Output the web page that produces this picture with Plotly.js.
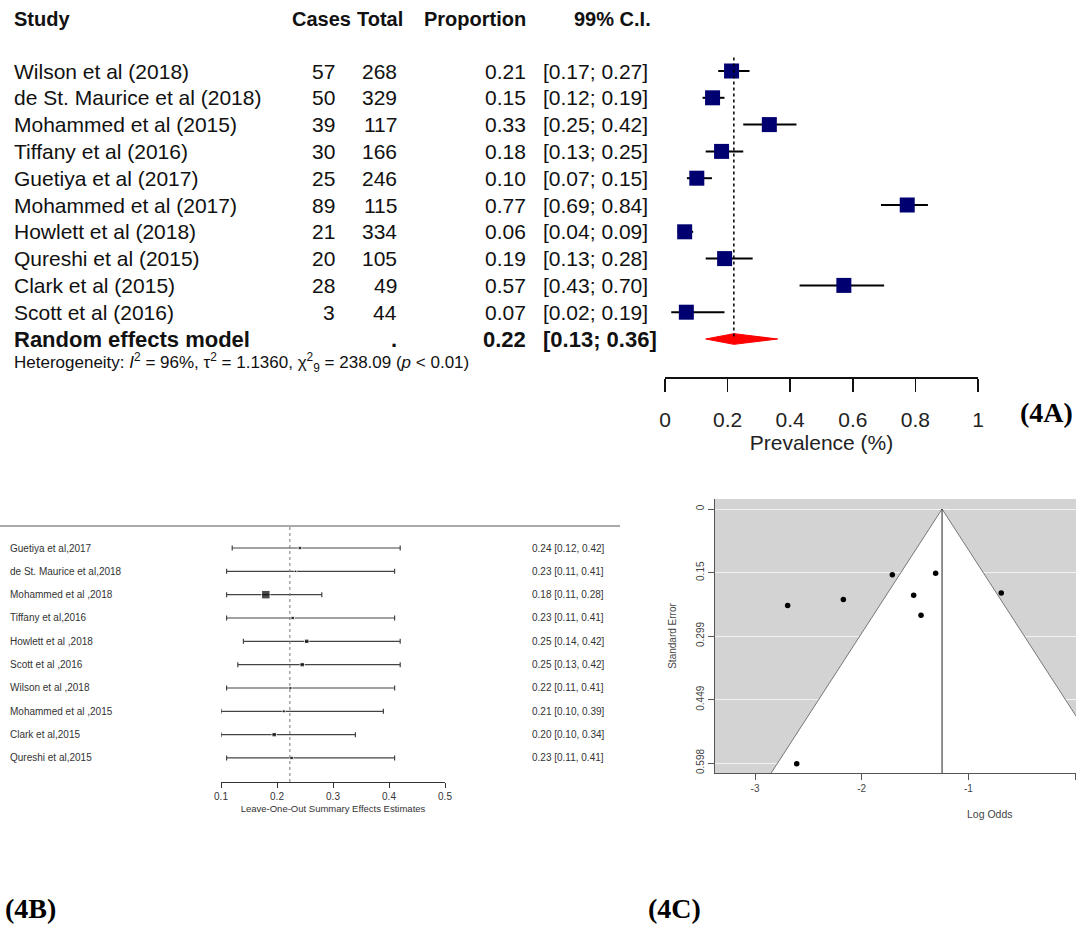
<!DOCTYPE html>
<html>
<head>
<meta charset="utf-8">
<script src="https://cdn.plot.ly/plotly-3.0.1.min.js"></script>
<style>
html,body{margin:0;padding:0;background:#fff;}
#chart{width:1076px;height:934px;}
</style>
</head>
<body>
<div id="chart"></div>
<script>
// ---------- Panel 4A data ----------
const studies = ["Wilson et al (2018)", "de St. Maurice et al (2018)", "Mohammed et al (2015)", "Tiffany et al (2016)", "Guetiya et al (2017)", "Mohammed et al (2017)", "Howlett et al (2018)", "Qureshi et al (2015)", "Clark et al (2015)", "Scott et al (2016)"];
const cases = [57, 50, 39, 30, 25, 89, 21, 20, 28, 3];
const totals = [268, 329, 117, 166, 246, 115, 334, 105, 49, 44];
const proportion = [0.21, 0.15, 0.33, 0.18, 0.10, 0.77, 0.06, 0.19, 0.57, 0.07];
const ciLow = [0.17, 0.12, 0.25, 0.13, 0.07, 0.69, 0.04, 0.13, 0.43, 0.02];
const ciHigh = [0.27, 0.19, 0.42, 0.25, 0.15, 0.84, 0.09, 0.28, 0.70, 0.19];
const pooled = 0.22, pooledLow = 0.13, pooledHigh = 0.36;
const prevTicks = [0, 0.2, 0.4, 0.6, 0.8, 1];
const prevTickText = ["0", "0.2", "0.4", "0.6", "0.8", "1"];

// ---------- Panel 4B data ----------
const looStudies = ["Guetiya et al,2017", "de St. Maurice et al,2018", "Mohammed et al ,2018", "Tiffany et al,2016", "Howlett et al ,2018", "Scott et al ,2016", "Wilson et al ,2018", "Mohammed et al ,2015", "Clark et al,2015", "Qureshi et al,2015"];
const looEst = [0.241, 0.233, 0.180, 0.228, 0.253, 0.245, 0.224, 0.212, 0.195, 0.226];
const looLow = [0.12, 0.11, 0.11, 0.11, 0.14, 0.13, 0.11, 0.10, 0.10, 0.11];
const looHigh = [0.42, 0.41, 0.28, 0.41, 0.42, 0.42, 0.41, 0.39, 0.34, 0.41];
const looLabels = ["0.24 [0.12, 0.42]", "0.23 [0.11, 0.41]", "0.18 [0.11, 0.28]", "0.23 [0.11, 0.41]", "0.25 [0.14, 0.42]", "0.25 [0.13, 0.42]", "0.22 [0.11, 0.41]", "0.21 [0.10, 0.39]", "0.20 [0.10, 0.34]", "0.23 [0.11, 0.41]"];
const looWeight = [3.5, 2.5, 8.5, 3.5, 4.5, 4.5, 3, 3, 4.5, 3.5];
const looPooled = 0.223;
const looTicks = [0.1, 0.2, 0.3, 0.4, 0.5];

// ---------- Panel 4C data ----------
const funnelLogOdds = [-2.694, -2.172, -1.713, -1.307, -1.513, -1.444, -0.692, -2.609];
const funnelSE = [0.227, 0.213, 0.155, 0.151, 0.203, 0.250, 0.198, 0.600];
const funnelCenter = -1.247;
const funnelZ = 2.576;
const seTicks = [0, 0.15, 0.299, 0.449, 0.598];
const seTickText = ["0", "0.15", "0.299", "0.449", "0.598"];
const logOddsTicks = [-3, -2, -1, 0];
const logOddsTickText = ["-3", "-2", "-1", "0"];

// ---------- helpers ----------
const W = 1076, H = 934;
const px = x => x / W;
const py = y => 1 - y / H;
const SANS = "Liberation Sans, Arial, sans-serif";
const SERIF = "Liberation Serif, Times New Roman, serif";

const rows = studies.map((_, i) => i + 1);
const summaryRow = studies.length + 1;
const looRows = looStudies.map((_, i) => i + 1);

const est = cases.map((c, i) => c / totals[i]);

const traces = [];

// 4A CI lines + squares
traces.push({
  type: "scatter", mode: "markers", xaxis: "x", yaxis: "y",
  x: est, y: rows,
  marker: { symbol: "square", size: 15, color: "#000070" },
  error_x: {
    type: "data", symmetric: false,
    array: ciHigh.map((h, i) => h - est[i]),
    arrayminus: ciLow.map((l, i) => est[i] - l),
    color: "#000", thickness: 2, width: 0
  },
  hoverinfo: "skip"
});
// 4A summary diamond
const dh = 0.2;
traces.push({
  type: "scatter", mode: "lines", xaxis: "x", yaxis: "y",
  x: [pooledLow, pooled, pooledHigh, pooled, pooledLow],
  y: [summaryRow, summaryRow - dh, summaryRow, summaryRow + dh, summaryRow],
  fill: "toself", fillcolor: "#ff0000", line: { color: "#ff0000", width: 1 },
  hoverinfo: "skip"
});

// 4B
traces.push({
  type: "scatter", mode: "markers", xaxis: "x2", yaxis: "y2",
  x: looEst, y: looRows,
  marker: { symbol: "square", size: looWeight, color: "#000" },
  error_x: {
    type: "data", symmetric: false,
    array: looHigh.map((h, i) => h - looEst[i]),
    arrayminus: looLow.map((l, i) => looEst[i] - l),
    color: "#444", thickness: 1.2, width: 2.5
  },
  hoverinfo: "skip"
});

// 4C funnel triangle
const seEnd = 0.7;
traces.push({
  type: "scatter", mode: "lines", xaxis: "x3", yaxis: "y3",
  x: [funnelCenter - funnelZ * seEnd, funnelCenter, funnelCenter + funnelZ * seEnd],
  y: [seEnd, 0, seEnd],
  fill: "toself", fillcolor: "#ffffff", line: { color: "#777", width: 1 },
  hoverinfo: "skip"
});
traces.push({
  type: "scatter", mode: "lines", xaxis: "x3", yaxis: "y3",
  x: [funnelCenter, funnelCenter], y: [0, seEnd],
  line: { color: "#222", width: 1 }, hoverinfo: "skip"
});
traces.push({
  type: "scatter", mode: "markers", xaxis: "x3", yaxis: "y3",
  x: funnelLogOdds, y: funnelSE,
  marker: { symbol: "circle", size: 5.5, color: "#000" },
  hoverinfo: "skip"
});

// ---------- annotations ----------
const ann = [];
const bigFont = { family: SANS, size: 21, color: "#111" };
const headFont = { family: SANS, size: 20, color: "#111" };
const boldFont = { family: SANS, size: 22, color: "#111" };
function head(text, x, anchor) {
  ann.push({ text: "<b>" + text + "</b>", xref: "paper", yref: "paper", x: px(x), y: py(19), xanchor: anchor, yanchor: "middle", showarrow: false, font: headFont });
}
head("Study", 12, "left");
head("Cases", 353, "right");
head("Total", 405, "right");
head("Proportion", 528, "right");
head("99% C.I.", 653, "right");

function cell(text, x, anchor, row, font) {
  ann.push({ text: text, xref: "paper", yref: "y", x: px(x), y: row, xanchor: anchor, yanchor: "middle", showarrow: false, font: font || bigFont });
}
studies.forEach((s, i) => {
  cell(s, 12, "left", rows[i]);
  cell(String(cases[i]), 337, "right", rows[i]);
  cell(String(totals[i]), 399, "right", rows[i]);
  cell(proportion[i].toFixed(2), 528, "right", rows[i]);
  cell("[" + ciLow[i].toFixed(2) + "; " + ciHigh[i].toFixed(2) + "]", 541, "left", rows[i]);
});
cell("<b>Random effects model</b>", 12, "left", summaryRow, boldFont);
cell("<b>.</b>", 399, "right", summaryRow, boldFont);
cell("<b>" + pooled.toFixed(2) + "</b>", 528, "right", summaryRow, boldFont);
cell("<b>[" + pooledLow.toFixed(2) + "; " + pooledHigh.toFixed(2) + "]</b>", 541, "left", summaryRow, boldFont);
cell("Heterogeneity: <i>I</i><sup>2</sup> = 96%, τ<sup>2</sup> = 1.1360, χ<sup>2</sup><sub>9</sub> = 238.09 (<i>p</i> &lt; 0.01)", 12, "left", summaryRow + 0.86, { family: SANS, size: 17, color: "#111" });

// panel labels
function panelLabel(text, x, y) {
  ann.push({ text: "<b>" + text + "</b>", xref: "paper", yref: "paper", x: px(x), y: py(y), xanchor: "left", yanchor: "middle", showarrow: false, font: { family: SERIF, size: 28, color: "#000" } });
}
panelLabel("(4A)", 1018, 412);
panelLabel("(4B)", 3, 908);
panelLabel("(4C)", 646, 908);

// 4B labels
const smallFont = { family: SANS, size: 10, color: "#333" };
looStudies.forEach((s, i) => {
  ann.push({ text: s, xref: "paper", yref: "y2", x: px(8), y: looRows[i], xanchor: "left", yanchor: "middle", showarrow: false, font: smallFont });
  ann.push({ text: looLabels[i], xref: "paper", yref: "y2", x: px(530), y: looRows[i], xanchor: "left", yanchor: "middle", showarrow: false, font: smallFont });
});

// 4C x title (plot extends beyond image edge)
ann.push({ text: "Log Odds", xref: "paper", yref: "paper", x: px(990), y: py(814), xanchor: "center", yanchor: "middle", showarrow: false, font: { family: SANS, size: 10.5, color: "#444" } });

// ---------- shapes ----------
const shapes = [
  // 4A pooled dotted line
  { type: "line", xref: "x", yref: "y", x0: pooled, x1: pooled, y0: 0.5, y1: summaryRow, line: { color: "#000", width: 1.5, dash: "dot" } },
  // 4B top rule
  { type: "line", xref: "paper", yref: "paper", x0: 0, x1: px(620), y0: py(526), y1: py(526), line: { color: "#aaa", width: 2 } },
  // 4B pooled dotted line
  { type: "line", xref: "x2", yref: "y2 domain", x0: looPooled, x1: looPooled, y0: 0, y1: 1, line: { color: "#777", width: 1, dash: "dot" } },
  // 4C grey background
  { type: "rect", xref: "x3 domain", yref: "y3 domain", x0: 0, x1: 1, y0: 0, y1: 1, fillcolor: "#d3d3d3", line: { width: 0 }, layer: "below" }
];

const layout = {
  width: W, height: H,
  margin: { l: 0, r: 0, t: 0, b: 0 },
  paper_bgcolor: "#fff", plot_bgcolor: "rgba(0,0,0,0)",
  showlegend: false, hovermode: false,
  font: { family: SANS },
  xaxis: {
    domain: [px(665), px(978)], range: [0, 1], anchor: "y",
    showline: true, linecolor: "#111", linewidth: 1.5,
    ticks: "outside", ticklen: 13, tickwidth: 1.5, tickcolor: "#111",
    tickvals: prevTicks, ticktext: prevTickText,
    tickfont: { family: SANS, size: 21, color: "#222" }, ticklabelstandoff: 10,
    showgrid: false, zeroline: false,
    title: { text: "Prevalence (%)", font: { family: SANS, size: 21, color: "#222" }, standoff: 2 }
  },
  yaxis: {
    domain: [py(377), py(40)], range: [1 + (377 - 71) / 26.8, 1 - (71 - 40) / 26.8],
    visible: false, anchor: "x"
  },
  xaxis2: {
    domain: [px(221), px(445)], range: [0.1, 0.5], anchor: "y2",
    showline: true, linecolor: "#333", linewidth: 1,
    ticks: "outside", ticklen: 5, tickcolor: "#333",
    tickvals: looTicks, tickformat: ".1f",
    tickfont: { family: SANS, size: 10, color: "#333" },
    showgrid: false, zeroline: false,
    title: { text: "Leave-One-Out Summary Effects Estimates", font: { family: SANS, size: 9.5, color: "#333" }, standoff: 4 }
  },
  yaxis2: {
    domain: [py(782), py(526)], range: [1 + (782 - 548) / 23.33, 1 - (548 - 526) / 23.33],
    visible: false, anchor: "x2"
  },
  xaxis3: {
    domain: [px(715), 1], range: [-3 - (755 - 715) / 106.7, -3 + (1076 - 755) / 106.7], anchor: "y3",
    showline: true, linecolor: "#555", linewidth: 1,
    ticks: "outside", ticklen: 6, tickcolor: "#555",
    tickvals: logOddsTicks, ticktext: logOddsTickText,
    tickfont: { family: SANS, size: 10, color: "#444" },
    showgrid: false, zeroline: false
  },
  yaxis3: {
    domain: [py(773), py(499)], range: [0.598 + (773 - 763) * 0.598 / 254, -(509 - 499) * 0.598 / 254], anchor: "x3",
    showline: true, linecolor: "#555", linewidth: 1,
    ticks: "outside", ticklen: 6, tickcolor: "#555",
    tickvals: seTicks, ticktext: seTickText, tickangle: -90,
    tickfont: { family: SANS, size: 10, color: "#444" },
    showgrid: true, gridcolor: "#f2f2f2", gridwidth: 1, zeroline: false,
    title: { text: "Standard Error", font: { family: SANS, size: 10, color: "#444" }, standoff: 16 }
  },
  annotations: ann,
  shapes: shapes
};

Plotly.newPlot("chart", traces, layout, { staticPlot: true, displayModeBar: false });
</script>
</body>
</html>
